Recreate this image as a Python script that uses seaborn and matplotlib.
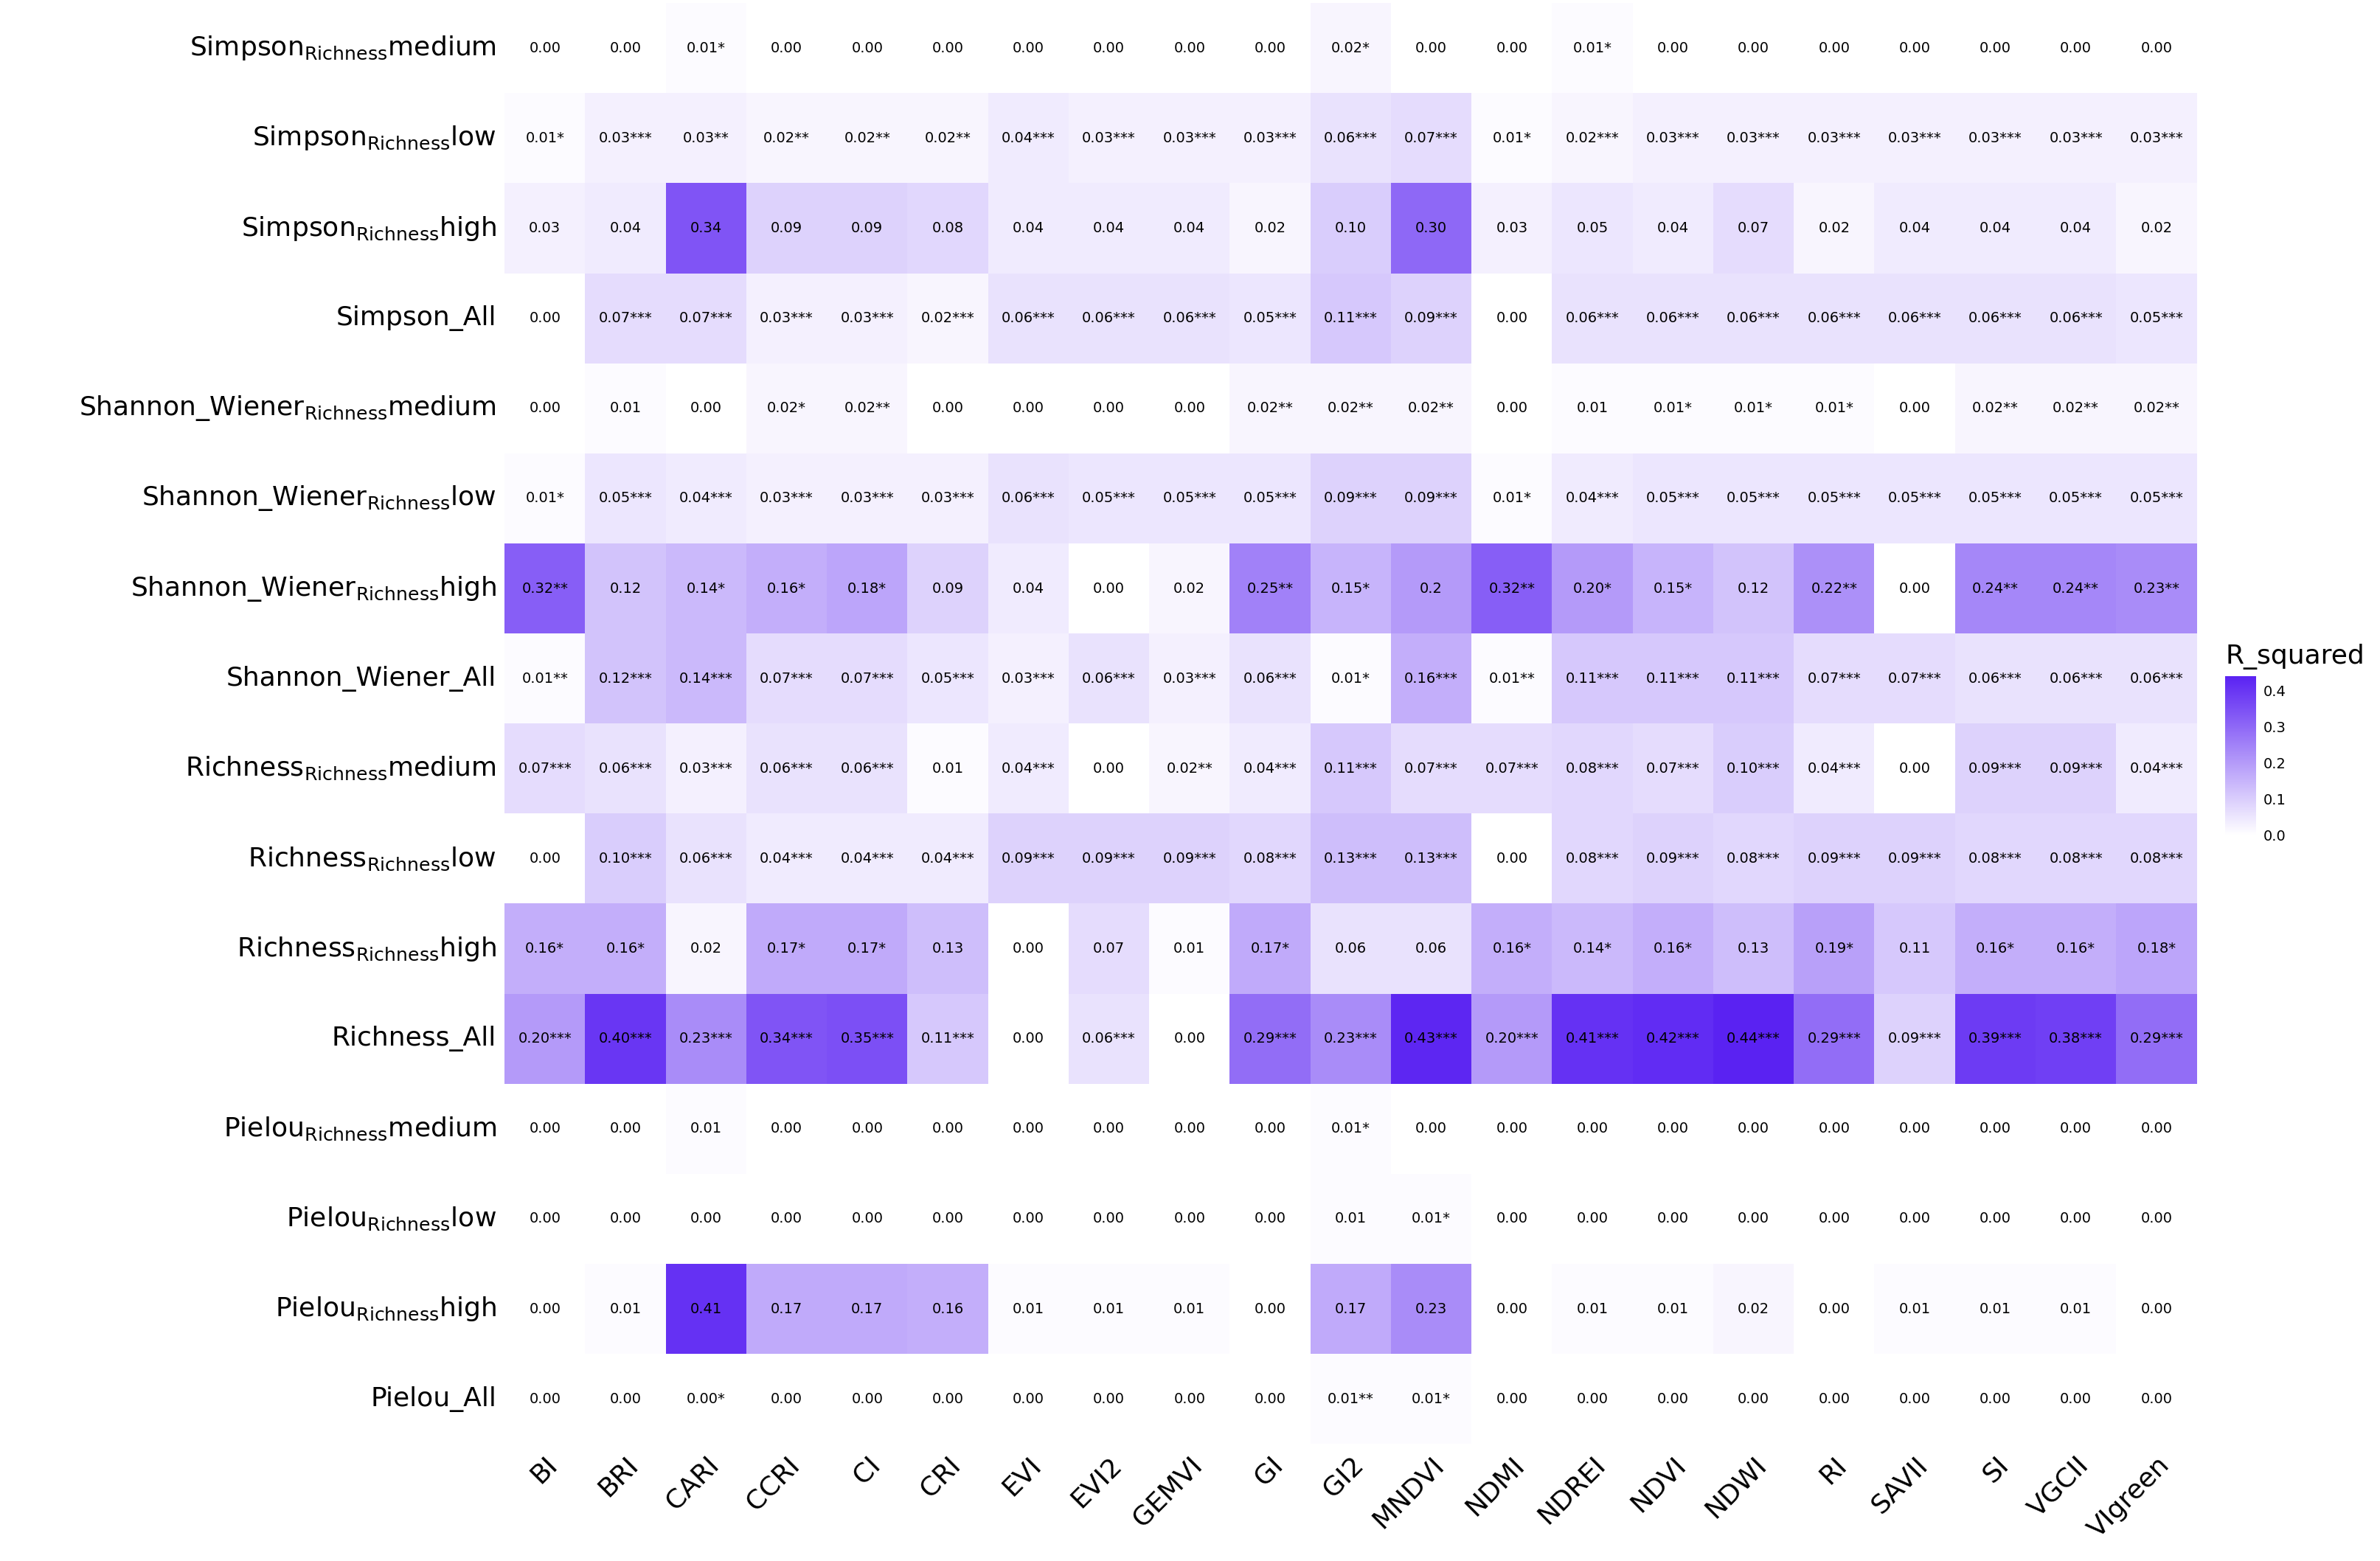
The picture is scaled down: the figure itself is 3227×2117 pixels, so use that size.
import numpy as np
import pandas as pd
import seaborn as sns
import matplotlib.pyplot as plt
from matplotlib.colors import LinearSegmentedColormap

cols = ["BI", "BRI", "CARI", "CCRI", "CI", "CRI", "EVI", "EVI2", "GEMVI", "GI", "GI2", "MNDVI",
        "NDMI", "NDREI", "NDVI", "NDWI", "RI", "SAVII", "SI", "VGCII", "VIgreen"]

rows = ["Simpson_Richness_medium", "Simpson_Richness_low", "Simpson_Richness_high", "Simpson_All",
        "Shannon_Wiener_Richness_medium", "Shannon_Wiener_Richness_low", "Shannon_Wiener_Richness_high",
        "Shannon_Wiener_All", "Richness_Richness_medium", "Richness_Richness_low", "Richness_Richness_high",
        "Richness_All", "Pielou_Richness_medium", "Pielou_Richness_low", "Pielou_Richness_high", "Pielou_All"]

row_labels = [r"Simpson$_{\mathrm{Richness}}$medium", r"Simpson$_{\mathrm{Richness}}$low",
              r"Simpson$_{\mathrm{Richness}}$high", "Simpson_All",
              r"Shannon_Wiener$_{\mathrm{Richness}}$medium", r"Shannon_Wiener$_{\mathrm{Richness}}$low",
              r"Shannon_Wiener$_{\mathrm{Richness}}$high", "Shannon_Wiener_All",
              r"Richness$_{\mathrm{Richness}}$medium", r"Richness$_{\mathrm{Richness}}$low",
              r"Richness$_{\mathrm{Richness}}$high", "Richness_All",
              r"Pielou$_{\mathrm{Richness}}$medium", r"Pielou$_{\mathrm{Richness}}$low",
              r"Pielou$_{\mathrm{Richness}}$high", "Pielou_All"]

z = "0.00"
labels = [
    [z, z, "0.01*", z, z, z, z, z, z, z, "0.02*", z, z, "0.01*", z, z, z, z, z, z, z],
    ["0.01*", "0.03***", "0.03**", "0.02**", "0.02**", "0.02**", "0.04***", "0.03***", "0.03***", "0.03***", "0.06***",
     "0.07***", "0.01*", "0.02***", "0.03***", "0.03***", "0.03***", "0.03***", "0.03***", "0.03***", "0.03***"],
    ["0.03", "0.04", "0.34", "0.09", "0.09", "0.08", "0.04", "0.04", "0.04", "0.02", "0.10", "0.30", "0.03", "0.05",
     "0.04", "0.07", "0.02", "0.04", "0.04", "0.04", "0.02"],
    [z, "0.07***", "0.07***", "0.03***", "0.03***", "0.02***", "0.06***", "0.06***", "0.06***", "0.05***", "0.11***",
     "0.09***", z, "0.06***", "0.06***", "0.06***", "0.06***", "0.06***", "0.06***", "0.06***", "0.05***"],
    [z, "0.01", z, "0.02*", "0.02**", z, z, z, z, "0.02**", "0.02**", "0.02**", z, "0.01", "0.01*", "0.01*", "0.01*",
     z, "0.02**", "0.02**", "0.02**"],
    ["0.01*", "0.05***", "0.04***", "0.03***", "0.03***", "0.03***", "0.06***", "0.05***", "0.05***", "0.05***", "0.09***",
     "0.09***", "0.01*", "0.04***", "0.05***", "0.05***", "0.05***", "0.05***", "0.05***", "0.05***", "0.05***"],
    ["0.32**", "0.12", "0.14*", "0.16*", "0.18*", "0.09", "0.04", z, "0.02", "0.25**", "0.15*", "0.2", "0.32**",
     "0.20*", "0.15*", "0.12", "0.22**", z, "0.24**", "0.24**", "0.23**"],
    ["0.01**", "0.12***", "0.14***", "0.07***", "0.07***", "0.05***", "0.03***", "0.06***", "0.03***", "0.06***", "0.01*",
     "0.16***", "0.01**", "0.11***", "0.11***", "0.11***", "0.07***", "0.07***", "0.06***", "0.06***", "0.06***"],
    ["0.07***", "0.06***", "0.03***", "0.06***", "0.06***", "0.01", "0.04***", z, "0.02**", "0.04***", "0.11***",
     "0.07***", "0.07***", "0.08***", "0.07***", "0.10***", "0.04***", z, "0.09***", "0.09***", "0.04***"],
    [z, "0.10***", "0.06***", "0.04***", "0.04***", "0.04***", "0.09***", "0.09***", "0.09***", "0.08***", "0.13***",
     "0.13***", z, "0.08***", "0.09***", "0.08***", "0.09***", "0.09***", "0.08***", "0.08***", "0.08***"],
    ["0.16*", "0.16*", "0.02", "0.17*", "0.17*", "0.13", z, "0.07", "0.01", "0.17*", "0.06", "0.06", "0.16*", "0.14*",
     "0.16*", "0.13", "0.19*", "0.11", "0.16*", "0.16*", "0.18*"],
    ["0.20***", "0.40***", "0.23***", "0.34***", "0.35***", "0.11***", z, "0.06***", z, "0.29***", "0.23***", "0.43***",
     "0.20***", "0.41***", "0.42***", "0.44***", "0.29***", "0.09***", "0.39***", "0.38***", "0.29***"],
    [z, z, "0.01", z, z, z, z, z, z, z, "0.01*", z, z, z, z, z, z, z, z, z, z],
    [z, z, z, z, z, z, z, z, z, z, "0.01", "0.01*", z, z, z, z, z, z, z, z, z],
    [z, "0.01", "0.41", "0.17", "0.17", "0.16", "0.01", "0.01", "0.01", z, "0.17", "0.23", z, "0.01", "0.01", "0.02",
     z, "0.01", "0.01", "0.01", z],
    [z, z, "0.00*", z, z, z, z, z, z, z, "0.01**", "0.01*", z, z, z, z, z, z, z, z, z],
]

vals = pd.DataFrame([[float(s.rstrip("*")) for s in r] for r in labels], index=rows, columns=cols)
annot = np.array(labels)

cmap = LinearSegmentedColormap.from_list("wp", ["#ffffff", "#5a22f2"])

fig = plt.figure(figsize=(16.135, 10.585), dpi=200)
ax = fig.add_axes([0.212, 0.075, 0.711, 0.923])
cax = fig.add_axes([0.935, 0.465, 0.013, 0.102])
sns.heatmap(vals, ax=ax, cbar_ax=cax, cmap=cmap, vmin=0, vmax=0.44, annot=annot, fmt="",
            annot_kws={"size": 7, "color": "black"}, linewidths=0)
ax.set_yticklabels(row_labels, rotation=0, fontsize=13)
ax.set_xticklabels(cols, rotation=45, fontsize=13, ha="right", rotation_mode="anchor")
ax.tick_params(length=0, pad=4)
ax.set_xlabel("")
ax.set_ylabel("")
cax.set_title("R_squared", fontsize=13, loc="left", pad=6)
cax.set_yticks([0.0, 0.1, 0.2, 0.3, 0.4])
cax.set_yticklabels(["0.0", "0.1", "0.2", "0.3", "0.4"])
cax.tick_params(labelsize=7, length=0)
cax.set_frame_on(False)
fig.savefig("out.png", dpi=200)
